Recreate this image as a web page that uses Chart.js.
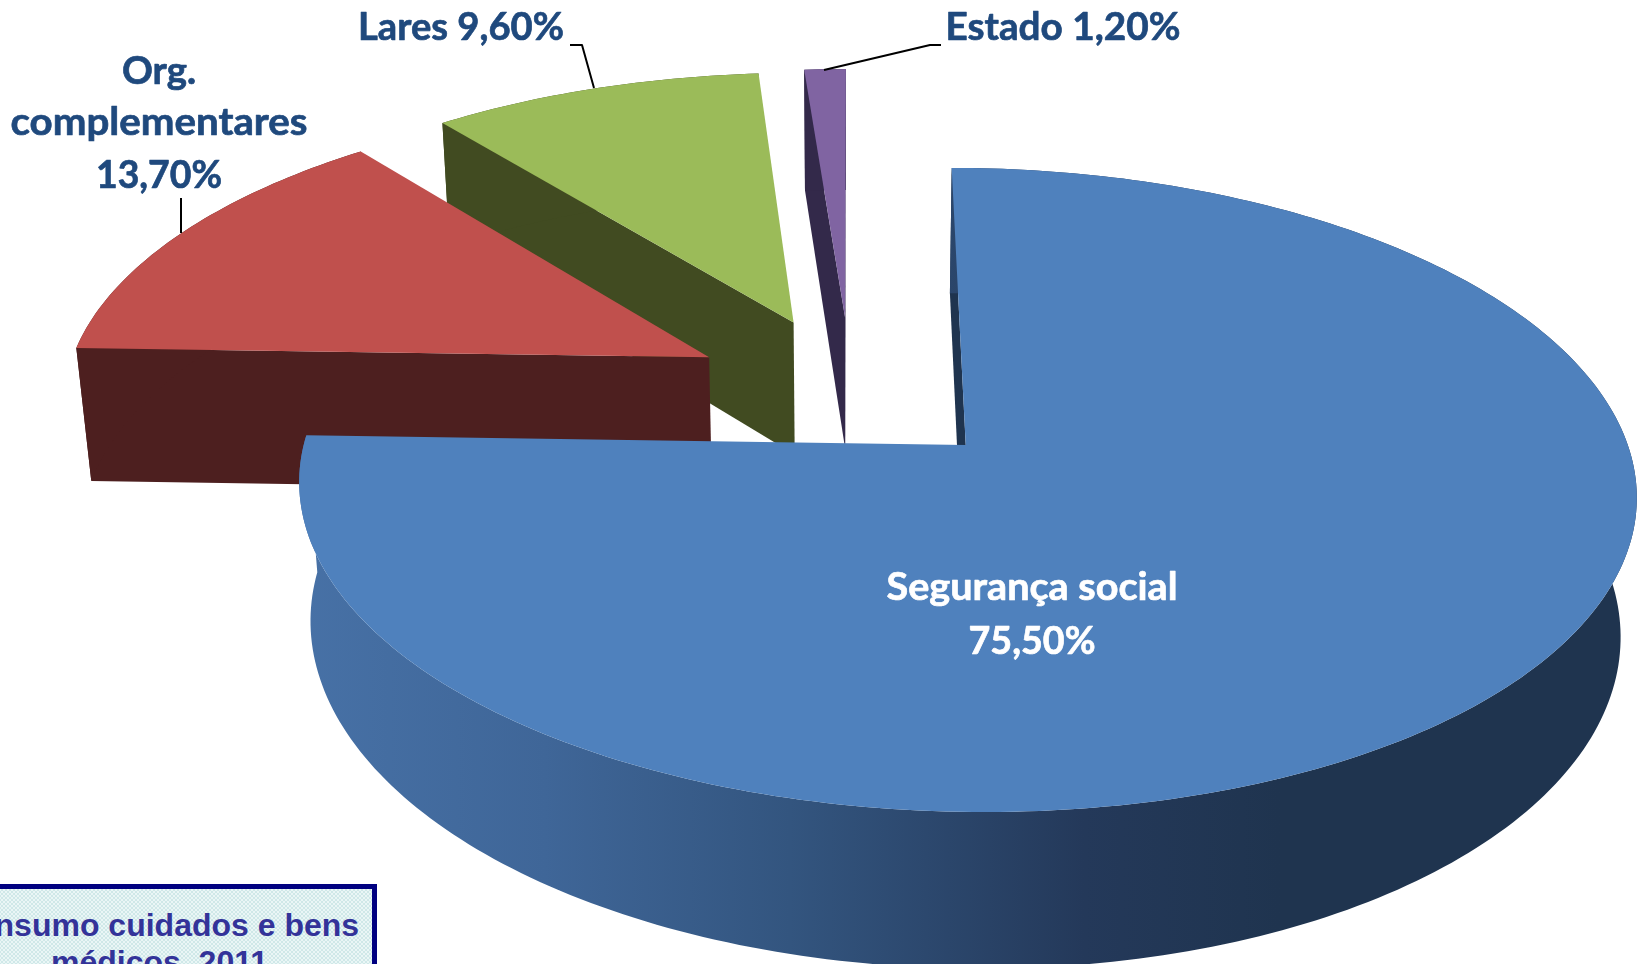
<!DOCTYPE html>
<html lang="pt">
<head>
<meta charset="utf-8">
<title>Consumo cuidados e bens médicos, 2011</title>
<script src="https://cdn.jsdelivr.net/npm/chart.js@4/dist/chart.umd.min.js"></script>
<style>
html,body{margin:0;padding:0;background:#fff;overflow:hidden;width:1637px;height:964px}
#wrap{position:relative;width:1637px;height:964px;overflow:hidden}
canvas{position:absolute;left:0;top:0}
#box{position:absolute;left:-66px;top:884px;width:433px;height:110px;border:5px solid #000080;
 background-color:#eaf6f6;
 background-image:linear-gradient(45deg,#cfe8e8 25%,transparent 25%,transparent 75%,#cfe8e8 75%),linear-gradient(45deg,#cfe8e8 25%,transparent 25%,transparent 75%,#cfe8e8 75%);
 background-size:4px 4px;background-position:0 0,2px 2px;
 font:bold 32px "Liberation Sans",Arial,sans-serif;color:#333399;text-align:center;line-height:37px;padding-top:18px;box-sizing:content-box}
#box span{position:relative;left:4px}
</style>
</head>
<body>
<div id="wrap">
<canvas id="c" width="1637" height="964"></canvas>
<div id="box">Consumo cuidados e bens<br><span>médicos, 2011</span></div>
</div>
<script>
const categories = ["Segurança social","Org. complementares","Lares","Estado"];
const values = [75.5,13.7,9.6,1.2];
const topColors = ["#4F81BD","#C0504D","#9BBB59","#8064A2"];
const wallColors = ["#1F344F","#4D1F1F","#414B21","#33294A"];
const labelLines = [["Segurança social","75,50%"],["Org.","complementares","13,70%"],["Lares 9,60%"],["Estado 1,20%"]];

// camera of the 3D view (pie radius = 1)
const CAM = {x0:851,y0:390,A:646,B:300.6,k:0.136,C:137.3,nearC:5,m:0.0201,explode:0.249};
const LABEL_COLOR = "#1F497D";

function project(X,Y,down){
  const w = 1 + CAM.k*Y + (down?CAM.m:0);
  const c = down ? CAM.C + Math.max(0,-Y)*CAM.nearC : 0;
  return {x: CAM.x0 + CAM.A*X/w, y: CAM.y0 - (CAM.B*Y - c)/w};
}
function trace(ctx,pts,close){
  ctx.beginPath();
  pts.forEach((p,i)=> i?ctx.lineTo(p.x,p.y):ctx.moveTo(p.x,p.y));
  if(close) ctx.closePath();
}
function cross(a,b){return a.x*b.y-a.y*b.x;}
function sub(a,b){return {x:a.x-b.x,y:a.y-b.y};}

const pie3d = {
  id:'pie3d',
  beforeDatasetsDraw(chart){
    const ctx = chart.ctx, arcs = chart.getDatasetMeta(0).data;
    for(let i=arcs.length-1;i>=0;i--){
      const a = arcs[i], s = a.startAngle+Math.PI/2, e = a.endAngle+Math.PI/2, mid=(s+e)/2;
      const ox = CAM.explode*Math.sin(mid), oy = CAM.explode*Math.cos(mid);
      const top=[],bot=[];
      const n = Math.max(4,Math.ceil((e-s)/(Math.PI/180)));
      for(let j=0;j<=n;j++){
        const t = s+(e-s)*j/n, X=ox+Math.sin(t), Y=oy+Math.cos(t);
        top.push(project(X,Y,false)); bot.push(project(X,Y,true));
      }
      const at = project(ox,oy,false), ab = project(ox,oy,true);
      const mr = top[Math.floor(n/2)];
      const wall = wallColors[i];
      // straight side walls (only the ones facing the viewer)
      [[top[0],bot[0]],[top[n],bot[n]]].forEach(([rt,rb])=>{
        const ed = sub(rt,at);
        if(cross(ed,sub(ab,at))*cross(ed,sub(mr,at))<0){
          ctx.fillStyle = wall; trace(ctx,[at,rt,rb,ab],true); ctx.fill();
        }
      });
      // rim wall
      let fill = wall;
      if(i===0){
        const g = ctx.createLinearGradient(300,0,1280,0);
        g.addColorStop(0,"#4771A6"); g.addColorStop(0.25,"#3F6698"); g.addColorStop(0.5,"#33557F");
        g.addColorStop(0.8,"#24395A"); g.addColorStop(1,wall);
        fill = g;
      }
      ctx.fillStyle = fill;
      trace(ctx,top.concat(bot.slice().reverse()),true); ctx.fill();
      // top face
      ctx.fillStyle = a.options.backgroundColor;
      trace(ctx,[at].concat(top),true); ctx.fill();
    }
    return false;
  },
  afterDraw(chart){
    const ctx = chart.ctx;
    ctx.save();
    // leader lines
    ctx.strokeStyle="#000"; ctx.lineWidth=2; ctx.lineJoin="round";
    [[[824,70],[930,45],[941,45]],[[570,45],[582,45],[594,88]],[[181,198],[181,233]]].forEach(l=>{
      ctx.beginPath(); l.forEach((p,i)=> i?ctx.lineTo(p[0],p[1]):ctx.moveTo(p[0],p[1])); ctx.stroke();
    });
    // labels, each line fitted to the width it has in the picture
    const anchors=[
      {x:1032,y:[600,654],w:[291,127],c:"#FFFFFF"},
      {x:159,y:[84,135,188],w:[74,297,126],c:LABEL_COLOR},
      {x:461,y:[40],w:[206],c:LABEL_COLOR},
      {x:1063,y:[40],w:[235],c:LABEL_COLOR}];
    ctx.font='bold 39px Lato'; ctx.textAlign='center'; ctx.textBaseline='alphabetic'; ctx.lineWidth=0.7;
    labelLines.forEach((lines,i)=>{
      const an=anchors[i];
      ctx.fillStyle=an.c; ctx.strokeStyle=an.c;
      lines.forEach((t,j)=>{
        ctx.save(); ctx.translate(an.x,an.y[j]); ctx.scale(an.w[j]/ctx.measureText(t).width,1);
        ctx.fillText(t,0,0); ctx.strokeText(t,0,0); ctx.restore();
      });
    });
    ctx.restore();
  }
};

new Chart(document.getElementById('c'),{
  type:'pie',
  data:{labels:categories,datasets:[{data:values,backgroundColor:topColors,borderWidth:0}]},
  options:{responsive:false,animation:false,events:[],
    plugins:{legend:{display:false},tooltip:{enabled:false},title:{display:false}}},
  plugins:[pie3d]
});
</script>
</body>
</html>
